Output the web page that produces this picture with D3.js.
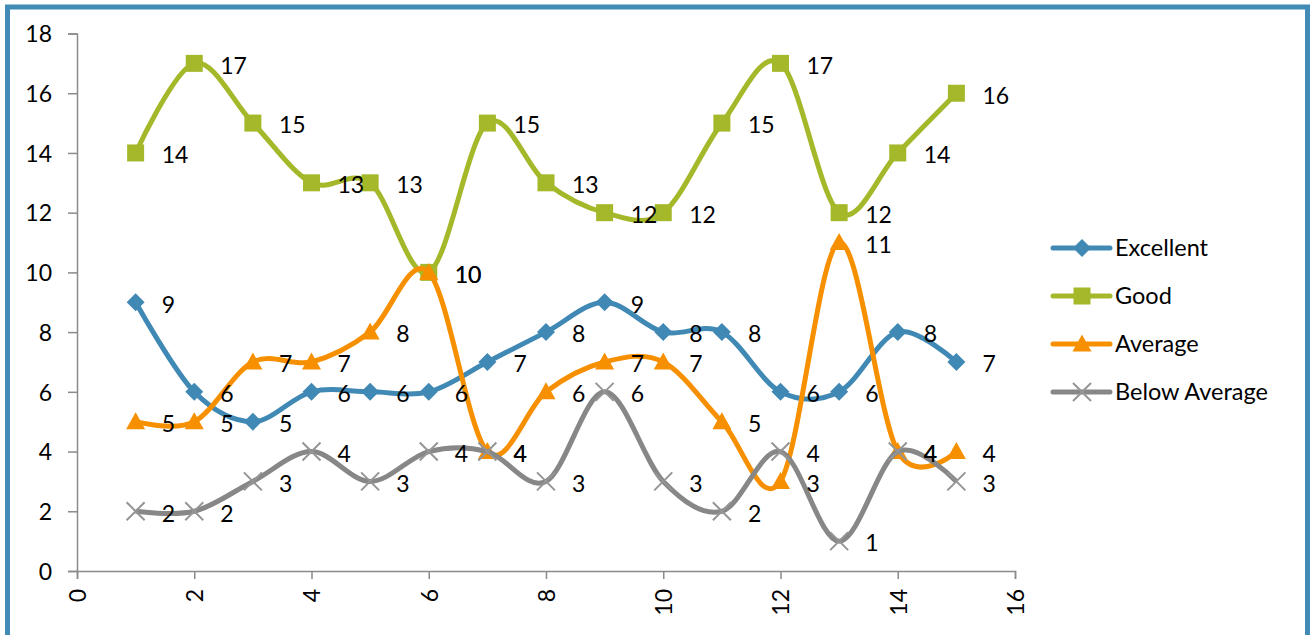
<!DOCTYPE html>
<html>
<head>
<meta charset="utf-8">
<script src="https://cdnjs.cloudflare.com/ajax/libs/d3/7.8.5/d3.min.js"></script>
<style>
  body { margin: 0; background: #fff; }
  text { font-family: Lato, "Open Sans", sans-serif; fill: #000; }
</style>
</head>
<body>
<div id="chart"></div>
<script>
'use strict';

// chart values
var xValues = [1, 2, 3, 4, 5, 6, 7, 8, 9, 10, 11, 12, 13, 14, 15];
var excellent = [9, 6, 5, 6, 6, 6, 7, 8, 9, 8, 8, 6, 6, 8, 7];
var good = [14, 17, 15, 13, 13, 10, 15, 13, 12, 12, 15, 17, 12, 14, 16];
var average = [5, 5, 7, 7, 8, 10, 4, 6, 7, 7, 5, 3, 11, 4, 4];
var belowAverage = [2, 2, 3, 4, 3, 4, 4, 3, 6, 3, 2, 4, 1, 4, 3];
var seriesNames = ["Excellent", "Good", "Average", "Below Average"];
var xTicks = [0, 2, 4, 6, 8, 10, 12, 14, 16];
var yTicks = [0, 2, 4, 6, 8, 10, 12, 14, 16, 18];

var width = 1314;
var height = 635;

var colors = ["#4189b5", "#a4b82a", "#f79000", "#878787"];
var markers = ["diamond", "square", "triangle", "cross"];

var series = [excellent, good, average, belowAverage].map(function(vals, i) {
  return {
    name: seriesNames[i],
    color: colors[i],
    marker: markers[i],
    points: vals.map(function(v, j) { return { x: xValues[j], y: v }; })
  };
});

var svg = d3.select("#chart").append("svg")
  .attr("width", width)
  .attr("height", height);

// outer frame
svg.append("rect")
  .attr("x", 7.5)
  .attr("y", 7)
  .attr("width", 1300)
  .attr("height", 700)
  .attr("fill", "none")
  .attr("stroke", "#428bb6")
  .attr("stroke-width", 5);

var x = d3.scaleLinear().domain([0, 16]).range([77, 1015]);
var y = d3.scaleLinear().domain([0, 18]).range([571, 33.5]);

// axes
var yAxis = svg.append("g")
  .attr("transform", "translate(" + x(0) + ",0)")
  .call(d3.axisLeft(y).tickValues(yTicks).tickSize(9).tickPadding(16));

var xAxis = svg.append("g")
  .attr("transform", "translate(0," + y(0) + ")")
  .call(d3.axisBottom(x).tickValues(xTicks).tickSize(8));

[yAxis, xAxis].forEach(function(ax) {
  ax.select(".domain").attr("stroke", "#8a8a8a").attr("stroke-width", 1.5);
  ax.selectAll(".tick line").attr("stroke", "#8a8a8a").attr("stroke-width", 1.5);
  ax.selectAll("text")
    .attr("fill", "#000")
    .style("font-family", "Lato, 'Open Sans', sans-serif")
    .style("font-size", "23px");
});

yAxis.selectAll("text").attr("dy", "0.36em");

xAxis.selectAll("text")
  .attr("y", 0)
  .attr("dy", "0.36em")
  .attr("text-anchor", "end")
  .attr("transform", "translate(0,18) rotate(-90)");

var line = d3.line()
  .x(function(d) { return x(d.x); })
  .y(function(d) { return y(d.y); })
  .curve(d3.curveCardinal.tension(0));

function drawMarker(g, type, color) {
  if (type === "diamond") {
    g.append("path").attr("d", "M0,-9L9,0L0,9L-9,0Z").attr("fill", color);
  } else if (type === "square") {
    g.append("rect").attr("x", -8.5).attr("y", -8.5).attr("width", 17).attr("height", 17).attr("fill", color);
  } else if (type === "triangle") {
    g.append("path").attr("d", "M0,-9.5L9.5,7.5L-9.5,7.5Z").attr("fill", color);
  } else {
    g.append("path").attr("d", "M-9,-9L9,9M-9,9L9,-9")
      .attr("stroke", "#959595").attr("stroke-width", 2).attr("fill", "none");
  }
}

var plot = svg.append("g");

series.forEach(function(s) {
  var g = plot.append("g");
  g.append("path")
    .datum(s.points)
    .attr("d", line)
    .attr("fill", "none")
    .attr("stroke", s.color)
    .attr("stroke-width", 5)
    .attr("stroke-linejoin", "round");

  g.selectAll("g.mark")
    .data(s.points)
    .enter().append("g")
      .attr("class", "mark")
      .attr("transform", function(d) { return "translate(" + x(d.x) + "," + y(d.y) + ")"; })
      .each(function() { drawMarker(d3.select(this), s.marker, s.color); });
});

// data labels on top
series.forEach(function(s) {
  plot.append("g").selectAll("text")
    .data(s.points)
    .enter().append("text")
      .attr("x", function(d) { return x(d.x) + 26; })
      .attr("y", function(d) { return y(d.y) + 2; })
      .attr("dy", "0.36em")
      .style("font-size", "23px")
      .text(function(d) { return d.y; });
});

// legend
var legend = svg.append("g")
  .attr("transform", "translate(1053,248)");

var item = legend.selectAll("g")
  .data(series)
  .enter().append("g")
    .attr("transform", function(d, i) { return "translate(0," + i * 48 + ")"; });

item.append("line")
  .attr("x1", 0).attr("x2", 57)
  .attr("stroke", function(d) { return d.color; })
  .attr("stroke-width", 5)
  .attr("stroke-linecap", "round");

item.append("g")
  .attr("transform", "translate(29,0)")
  .each(function(d) { drawMarker(d3.select(this), d.marker, d.color); });

item.append("text")
  .attr("x", 62)
  .attr("dy", "0.36em")
  .style("font-size", "23.5px")
  .text(function(d) { return d.name; });
</script>
</body>
</html>
